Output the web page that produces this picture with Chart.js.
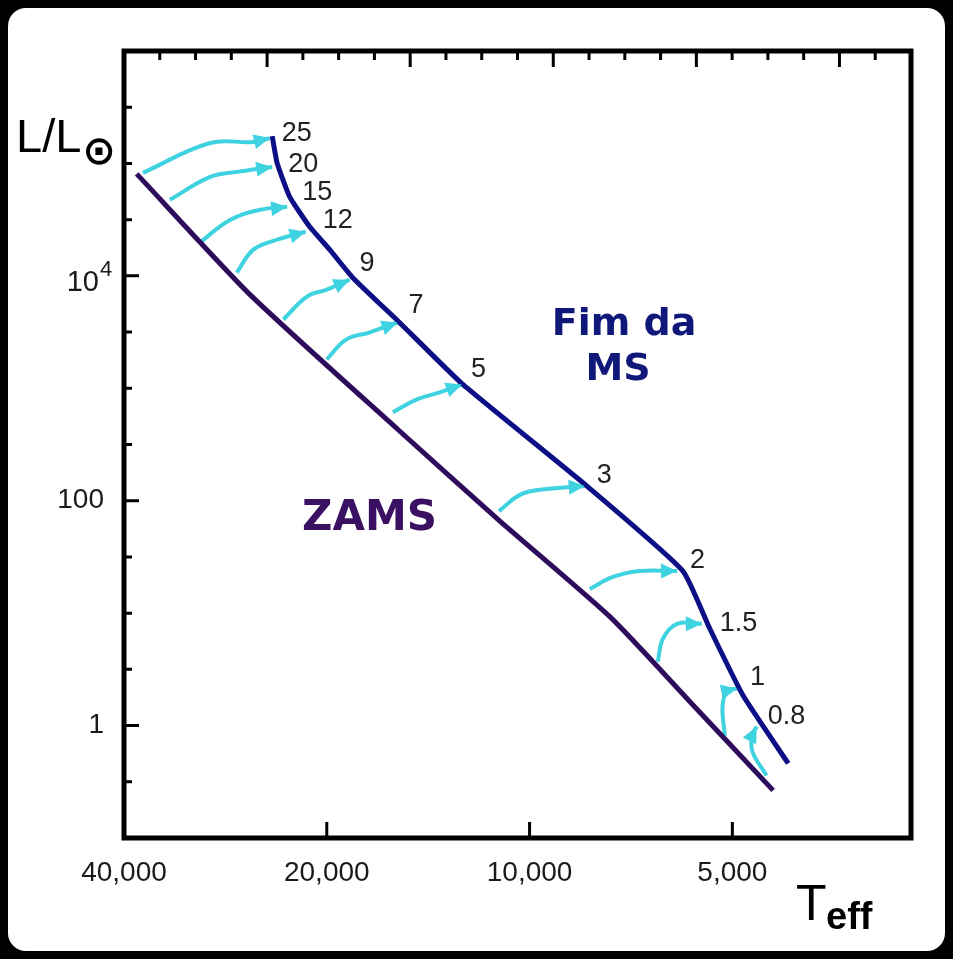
<!DOCTYPE html>
<html>
<head>
<meta charset="utf-8">
<script src="https://cdn.jsdelivr.net/npm/chart.js@4"></script>
<style>
  html, body { margin: 0; padding: 0; background: #000; }
  canvas { display: block; }
</style>
</head>
<body>
<canvas id="hrChart" width="953" height="959"></canvas>
<script>
// Zero-age main sequence (ZAMS): Teff (K) and L/Lsun
const zamsTeff = [38300, 26000, 15700, 11100, 7600, 5780, 4350];
const zamsLum = [80700, 6810, 432, 67, 9.3, 1.63, 0.265];

// End of the main sequence ("Fim da MS")
const endMsTeff = [24100, 23700, 22700, 21200, 19800, 18300, 15600, 12600, 8220, 5920, 5400, 4820, 4130];
const endMsLum = [175000, 101000, 50500, 27300, 17100, 9640, 3850, 1100, 135, 23.7, 7.26, 1.85, 0.46];

// Main sequence tracks, one per mass (in solar masses)
const masses = ['25', '20', '15', '12', '9', '7', '5', '3', '2', '1.5', '1', '0.8'];
const trackTeff = [
  [37500, 29800, 25700, 24300],
  [34200, 29800, 27200, 24100],
  [30900, 27800, 25100, 22900],
  [27200, 25700, 23700, 21500],
  [23200, 21400, 20000, 18500],
  [20000, 18700, 17300, 15700],
  [15950, 14700, 13600, 12600],
  [11100, 10300, 9430, 8280],
  [8140, 7520, 6860, 6040],
  [6450, 6340, 6040, 5550],
  [5130, 5170, 5080, 4920],
  [4450, 4670, 4670, 4600]
];
const trackLum = [
  [82400, 152000, 155000, 168000],
  [47400, 75900, 84100, 93100],
  [19700, 31500, 38700, 41100],
  [10700, 17100, 21000, 24700],
  [4090, 6540, 7540, 9250],
  [1810, 2720, 3130, 3850],
  [611, 797, 919, 1080],
  [80.9, 114, 127, 135],
  [16.4, 21.0, 23.7, 23.7],
  [3.70, 5.92, 8.04, 8.04],
  [0.815, 1.50, 2.05, 2.13],
  [0.36, 0.59, 0.82, 0.98]
];

// Axis ticks
const xTicks = [40000, 20000, 10000, 5000];
const xTickLabels = ['40,000', '20,000', '10,000', '5,000'];
const yTicks = [0.3162, 1, 3.162, 10, 31.62, 100, 316.2, 1000, 3162, 10000, 31620, 100000, 316200];
const yTickLabels = { 1: '1', 100: '100' };
const yMajor = [1, 100, 10000];

// where each mass label sits, relative to its arrow tip (px)
const labelOffsets = [[12, -5], [16, -2], [15, -14], [17, -11], [10, -16], [11, -17], [9, -15], [12, -11], [13, -10], [18, 0], [13, -11], [11, -10]];

const CYAN = '#3fd2e0';
const NAVY = '#0c0f86';
const PURPLE = '#2e0c5c';

function toPoints(xs, ys) {
  return xs.map((x, i) => ({ x: x, y: ys[i] }));
}

const datasets = [
  {
    data: toPoints(zamsTeff, zamsLum),
    borderColor: PURPLE, borderWidth: 5,
    tension: 0.2
  },
  {
    data: toPoints(endMsTeff, endMsLum),
    borderColor: NAVY, borderWidth: 5,
    tension: 0.15
  }
];
masses.forEach((m, i) => {
  datasets.push({
    data: toPoints(trackTeff[i], trackLum[i]),
    borderColor: CYAN, borderWidth: 4,
    tension: 0.4,
    isTrack: true
  });
});

// white panel behind everything
const panelPlugin = {
  id: 'panel',
  beforeDraw(chart) {
    const ctx = chart.ctx;
    ctx.save();
    ctx.fillStyle = '#fff';
    ctx.beginPath();
    ctx.roundRect(8, 8, 937, 943, 18);
    ctx.fill();
    ctx.restore();
  }
};

// frame, inward ticks, arrows and all the annotation text
const decorPlugin = {
  id: 'decor',
  afterDatasetsDraw(chart) {
    const ctx = chart.ctx;
    const area = chart.chartArea;
    const xs = chart.scales.x;
    const ys = chart.scales.y;
    const top = chart.scales.xTop;

    ctx.save();
    // arrow heads at the end of each track
    chart.data.datasets.forEach((ds, i) => {
      if (!ds.isTrack) return;
      const pts = chart.getDatasetMeta(i).data;
      const tip = pts[pts.length - 1];
      const prev = pts[pts.length - 2];
      const a = Math.atan2(tip.y - prev.y, tip.x - prev.x);
      ctx.fillStyle = CYAN;
      ctx.beginPath();
      ctx.moveTo(tip.x, tip.y);
      ctx.lineTo(tip.x - 16 * Math.cos(a) + 7.5 * Math.sin(a), tip.y - 16 * Math.sin(a) - 7.5 * Math.cos(a));
      ctx.lineTo(tip.x - 16 * Math.cos(a) - 7.5 * Math.sin(a), tip.y - 16 * Math.sin(a) + 7.5 * Math.cos(a));
      ctx.closePath();
      ctx.fill();

      const k = i - 2;
      ctx.fillStyle = '#222';
      ctx.font = '27px "Liberation Sans"';
      ctx.textAlign = 'left';
      ctx.textBaseline = 'middle';
      ctx.fillText(masses[k], tip.x + labelOffsets[k][0], tip.y + labelOffsets[k][1]);
    });

    // frame
    ctx.strokeStyle = '#000';
    ctx.lineWidth = 5;
    ctx.strokeRect(area.left, area.top, area.right - area.left, area.bottom - area.top);

    // ticks
    ctx.lineWidth = 3;
    ctx.beginPath();
    yTicks.forEach(v => {
      const py = ys.getPixelForValue(v);
      const len = yMajor.includes(v) ? 15 : 8;
      ctx.moveTo(area.left, py);
      ctx.lineTo(area.left + len, py);
    });
    xTicks.slice(1).forEach(v => {
      const px = xs.getPixelForValue(v);
      ctx.moveTo(px, area.bottom);
      ctx.lineTo(px, area.bottom - 16);
    });
    for (let i = 1; i < 22; i++) {
      const px = top.getPixelForValue(i);
      ctx.moveTo(px, area.top);
      ctx.lineTo(px, area.top + (i % 4 === 0 ? 16 : 9));
    }
    ctx.stroke();

    // 10^4 tick label
    const p4 = ys.getPixelForValue(10000);
    ctx.fillStyle = '#1a1a1a';
    ctx.textBaseline = 'alphabetic';
    ctx.textAlign = 'right';
    ctx.font = '29px "Liberation Sans"';
    ctx.fillText('10', 99, p4 + 15);
    ctx.textAlign = 'left';
    ctx.font = '22px "Liberation Sans"';
    ctx.fillText('4', 100, p4);

    // axis titles
    ctx.fillStyle = '#000';
    ctx.font = '47px "Liberation Sans"';
    ctx.fillText('L/L', 16, 152);
    ctx.font = 'bold 40px "DejaVu Sans"';
    ctx.textAlign = 'center';
    ctx.textBaseline = 'alphabetic';
    ctx.fillText('\u2299', 99, 164);

    ctx.textAlign = 'left';
    ctx.textBaseline = 'alphabetic';
    ctx.font = '50px "Liberation Sans"';
    ctx.fillText('T', 796, 920);
    ctx.font = 'bold 38px "Liberation Sans"';
    ctx.fillText('eff', 826, 929);

    // curve names
    ctx.fillStyle = '#10187a';
    ctx.font = 'bold 38px "DejaVu Sans"';
    ctx.textAlign = 'center';
    ctx.fillText('Fim da', 624, 335);
    ctx.fillText('MS', 618, 380);
    ctx.fillStyle = '#3a1062';
    ctx.font = 'bold 42px "DejaVu Sans"';
    ctx.textAlign = 'left';
    ctx.fillText('ZAMS', 302, 530);
    ctx.restore();
  }
};

new Chart(document.getElementById('hrChart'), {
  type: 'scatter',
  data: { datasets: datasets },
  options: {
    responsive: false,
    animation: false,
    devicePixelRatio: 1,
    showLine: true,
    elements: { point: { radius: 0 } },
    layout: { padding: { top: 51, right: 42, left: 0, bottom: 0 } },
    scales: {
      x: {
        type: 'logarithmic',
        min: 2715,
        max: 40000,
        reverse: true,
        grid: { display: false },
        border: { display: false },
        afterBuildTicks: s => { s.ticks = xTicks.map(v => ({ value: v })); },
        afterFit: s => { s.height = 121; },
        ticks: {
          autoSkip: false,
          maxRotation: 0,
          padding: 10,
          color: '#1a1a1a',
          font: { family: 'Liberation Sans', size: 28 },
          callback: (v, i) => xTickLabels[i]
        }
      },
      xTop: {
        type: 'linear',
        position: 'top',
        display: false,
        min: 0,
        max: 22
      },
      y: {
        type: 'logarithmic',
        min: 0.1,
        max: 1000000,
        grid: { display: false },
        border: { display: false },
        afterBuildTicks: s => { s.ticks = yTicks.map(v => ({ value: v })); },
        afterFit: s => { s.width = 124; },
        ticks: {
          autoSkip: false,
          padding: 12,
          color: '#1a1a1a',
          font: { family: 'Liberation Sans', size: 28 },
          callback: v => yTickLabels[v] || ''
        }
      }
    },
    plugins: {
      legend: { display: false },
      tooltip: { enabled: false }
    }
  },
  plugins: [panelPlugin, decorPlugin]
});
</script>
</body>
</html>
